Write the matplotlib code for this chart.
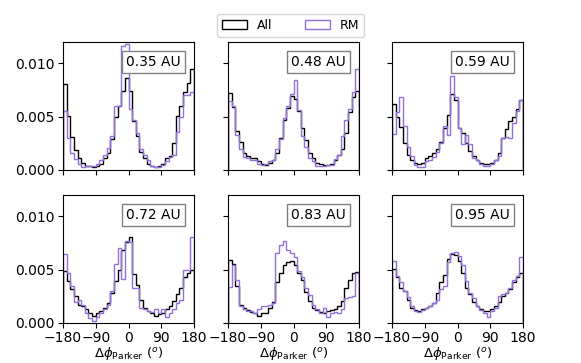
import numpy as np
import matplotlib
matplotlib.use("Agg")
import matplotlib.pyplot as plt

# bin edges in degrees (10 deg bins)
edges = np.arange(-180, 181, 10)
centres = edges[:-1] + 5
labels = ["0.35 AU", "0.48 AU", "0.59 AU", "0.72 AU", "0.83 AU", "0.95 AU"]

# normalised counts, units of 1e-3
all_035 = [8.1, 5.1, 3.1, 1.9, 1.1, 0.7, 0.4, 0.4, 0.3, 0.4, 0.6, 1.1, 1.6, 2.9, 5.0, 6.0, 7.4, 8.6,
           7.4, 4.6, 3.2, 1.7, 1.1, 0.6, 0.4, 0.3, 0.4, 0.6, 1.1, 1.3, 2.5, 5.1, 6.0, 7.3, 8.2, 9.5]
rm_035 = [5.5, 3.0, 1.6, 1.0, 0.6, 0.3, 0.4, 0.4, 0.4, 0.6, 0.9, 1.4, 2.1, 3.2, 6.0, 6.0, 11.6, 11.8,
          5.7, 4.7, 3.5, 2.0, 1.4, 0.9, 0.4, 0.3, 0.3, 0.5, 0.8, 1.2, 1.4, 3.6, 5.0, 7.0, 7.0, 7.3]

all_048 = [7.2, 5.9, 3.7, 2.6, 1.6, 1.3, 1.1, 1.1, 0.8, 0.6, 0.5, 0.7, 0.9, 1.6, 3.0, 4.7, 5.8, 6.9,
           6.7, 5.5, 3.9, 2.8, 1.6, 1.1, 0.7, 0.6, 0.5, 0.5, 0.6, 0.9, 1.4, 2.0, 3.5, 5.4, 6.8, 7.4]
rm_048 = [6.5, 6.0, 3.3, 2.0, 1.2, 1.1, 0.9, 0.9, 0.6, 0.5, 0.6, 0.8, 0.9, 2.0, 2.9, 4.9, 6.0, 7.1,
          8.4, 5.6, 3.2, 2.2, 1.1, 0.8, 0.4, 0.4, 0.4, 0.5, 0.5, 1.0, 1.4, 3.2, 4.7, 5.7, 7.3, 9.5]

all_059 = [6.2, 5.0, 4.0, 2.5, 1.4, 0.9, 0.7, 0.6, 0.7, 1.1, 1.3, 1.6, 2.0, 2.6, 3.9, 5.2, 7.1, 6.6,
           3.9, 3.5, 2.5, 1.8, 1.3, 0.9, 0.7, 0.6, 0.6, 0.7, 0.9, 1.6, 3.0, 3.8, 4.6, 5.0, 5.7, 6.6]
rm_059 = [3.4, 5.4, 6.8, 4.1, 2.2, 1.3, 0.5, 0.3, 0.3, 0.8, 0.9, 1.2, 1.7, 2.5, 4.1, 3.3, 8.8, 6.8,
          3.9, 2.4, 3.3, 2.4, 1.1, 0.9, 0.6, 0.4, 0.4, 0.6, 0.9, 1.3, 3.0, 3.1, 3.0, 4.4, 5.5, 6.6]

all_072 = [4.9, 3.9, 3.2, 2.5, 1.7, 1.6, 1.3, 0.9, 0.7, 0.9, 1.1, 1.4, 1.9, 2.8, 3.9, 5.0, 6.8, 7.6,
           8.1, 4.6, 3.6, 2.2, 1.4, 1.1, 0.9, 0.7, 0.8, 0.9, 1.3, 1.6, 2.1, 2.7, 3.3, 4.3, 4.7, 5.0]
rm_072 = [6.5, 4.7, 3.5, 2.0, 2.2, 1.7, 0.9, 0.5, 0.2, 0.6, 0.9, 1.3, 1.7, 3.0, 5.5, 7.0, 4.1, 7.7,
          7.6, 3.3, 3.3, 1.4, 1.3, 1.1, 1.0, 1.3, 0.9, 1.3, 0.6, 0.9, 1.3, 1.9, 2.2, 5.0, 5.0, 8.1]

all_083 = [5.9, 5.5, 3.5, 1.7, 1.4, 1.2, 1.0, 0.9, 0.7, 0.9, 0.9, 1.4, 2.0, 3.8, 4.7, 5.4, 5.7, 5.8,
           5.4, 4.7, 4.0, 2.9, 2.1, 1.4, 1.2, 1.0, 0.9, 1.1, 1.2, 1.3, 1.6, 2.1, 3.3, 4.0, 4.7, 4.8]
rm_083 = [3.4, 5.4, 4.0, 1.6, 1.3, 1.1, 1.1, 0.9, 1.3, 1.6, 1.6, 1.7, 1.9, 6.6, 7.3, 7.7, 6.8, 6.6,
          6.2, 4.9, 4.3, 3.3, 2.6, 1.7, 1.3, 0.9, 1.4, 0.6, 0.9, 1.0, 0.9, 1.3, 2.3, 2.4, 2.5, 4.7]

all_095 = [5.1, 4.3, 3.3, 3.0, 2.2, 1.4, 1.2, 1.1, 1.3, 1.4, 1.6, 1.9, 2.8, 3.8, 4.5, 6.0, 6.5, 6.4,
           5.8, 4.7, 3.3, 2.7, 2.0, 1.6, 1.3, 1.1, 1.1, 1.3, 1.6, 2.0, 2.5, 2.8, 3.2, 3.8, 4.3, 4.7]
rm_095 = [5.8, 4.4, 3.8, 3.0, 2.4, 1.6, 1.1, 1.0, 1.2, 1.4, 1.6, 1.9, 2.2, 3.2, 3.5, 5.7, 6.6, 6.7,
          6.3, 5.4, 3.9, 2.8, 2.3, 1.6, 1.2, 0.9, 0.6, 1.1, 1.4, 2.5, 2.7, 2.8, 3.3, 4.0, 4.4, 6.2]

all_data = [all_035, all_048, all_059, all_072, all_083, all_095]
rm_data = [rm_035, rm_048, rm_059, rm_072, rm_083, rm_095]

purple = "mediumpurple"

fig = plt.figure(figsize=(5.81, 3.63), dpi=100)

lefts = [63, 228, 392]
bottoms = [40, 193]  # bottom row, top row
w, h = 131, 128

for i in range(6):
    row, col = divmod(i, 3)
    ax = fig.add_axes([lefts[col] / 581, bottoms[1 - row] / 363, w / 581, h / 363])
    a = np.array(all_data[i]) * 1e-3
    r = np.array(rm_data[i]) * 1e-3
    _, _, p_all = ax.hist(centres, bins=edges, weights=a, histtype="step", color="k", lw=1.0, label="All")
    _, _, p_rm = ax.hist(centres, bins=edges, weights=r, histtype="step", color=purple, lw=1.0, label="RM")
    ax.set_xlim(-180, 180)
    ax.set_ylim(0, 0.012)
    ax.set_xticks([-180, -90, 0, 90, 180])
    ax.set_yticks([0, 0.005, 0.010])
    ax.tick_params(labelsize=10, pad=2.5)
    if col == 0:
        ax.set_yticklabels(["0.000", "0.005", "0.010"])
    else:
        ax.set_yticklabels([])
    if row == 0:
        ax.set_xticklabels([])
    else:
        ax.set_xlabel(r"$\Delta\phi_{\rm Parker}$ ($^o$)", fontsize=9.5, labelpad=0)
    ax.text(0.69, 0.845, labels[i], transform=ax.transAxes, ha="center", va="center",
            fontsize=10, bbox=dict(boxstyle="square,pad=0.3", fc="white", ec="grey"))
    if i == 0:
        handles = [p_all[0], p_rm[0]]

fig.legend(handles, ["All", "RM"], loc="upper center", ncol=2,
           bbox_to_anchor=(0.5, 0.98), fontsize=9, columnspacing=2.6)

fig.savefig("out.png", dpi=100)
